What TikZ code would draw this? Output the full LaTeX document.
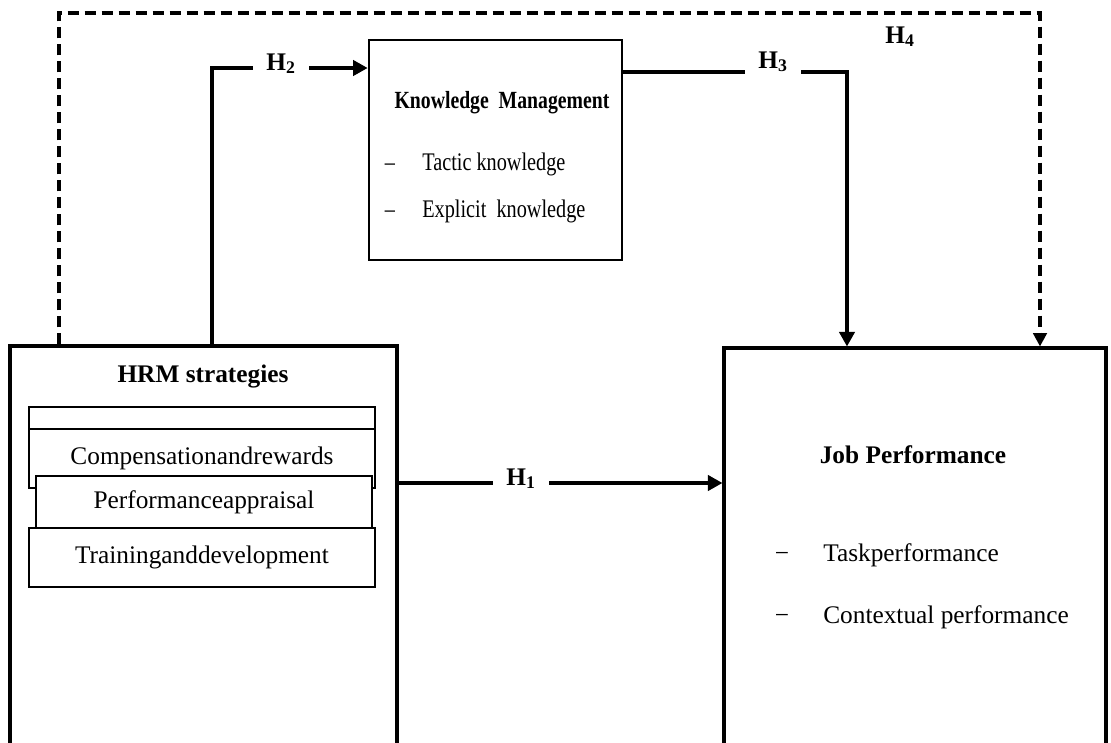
\documentclass[tikz,border=0pt]{standalone}
\usepackage{fontspec}
\setmainfont{Liberation Serif}
\newfontfamily\narrowfont{Liberation Serif}[FakeStretch=0.8]
\usetikzlibrary{arrows.meta}

\begin{document}
\begin{tikzpicture}[x=0.75pt,y=-0.75pt,
  box/.style={draw,line width=2.3pt,inner sep=0pt},
  itembox/.style={draw,fill=white,line width=1pt,inner sep=0pt},
  txt/.style={font=\fontsize{19}{22}\selectfont,inner sep=0pt},
  kmtxt/.style={font=\narrowfont\fontsize{19}{22}\selectfont,inner sep=0pt},
  conn/.style={line width=2.6pt,-{Triangle[length=11pt,width=11.5pt]}},
  dconn/.style={line width=2.5pt,dash pattern=on 8.25pt off 4.5pt,-{Triangle[length=10pt,width=10pt]}},
  hyp/.style={fill=white,font=\fontsize{19}{22}\selectfont\bfseries,inner xsep=10pt,inner ysep=3pt}]
  \useasboundingbox (0,0) rectangle (1111,743);

  % the three blocks
  \node[box,minimum width=290.25pt,minimum height=303pt] (hrm) at (203.5,548) {};
  \node[box,minimum width=286.5pt,minimum height=301.5pt] (job) at (915,549) {};
  \node[box,line width=2pt,minimum width=189.75pt,minimum height=165pt] (km) at (495.5,150) {};

  % HRM strategies
  \node[txt,font=\fontsize{19}{22}\selectfont\bfseries,anchor=base] (hrmtitle) at (203,382) {HRM strategies};
  \node[itembox,minimum width=259.5pt,minimum height=16.5pt] (blank) at (202,418) {};
  \node[itembox,txt,minimum width=259.5pt,minimum height=44.25pt] (comp) at (202,458.5) {Compensationandrewards};
  \node[itembox,txt,minimum width=252pt,minimum height=39pt] (perf) at (204,502) {Performanceappraisal};
  \node[itembox,txt,minimum width=259.5pt,minimum height=44.25pt] (train) at (202,557.5) {Traininganddevelopment};

  % Knowledge Management
  \node[kmtxt,font=\narrowfont\fontsize{18.5}{21}\selectfont\bfseries,anchor=base] (kmtitle) at (502,108) {Knowledge\ \ Management};
  \node[kmtxt,anchor=base] (kmdash1) at (390,170) {\textendash};
  \node[kmtxt,anchor=base west] (tacit) at (422,170) {Tactic knowledge};
  \node[kmtxt,anchor=base] (kmdash2) at (390,217) {\textendash};
  \node[kmtxt,anchor=base west] (explicit) at (422,217) {Explicit\ \ knowledge};

  % Job Performance
  \node[txt,font=\fontsize{19}{22}\selectfont\bfseries,anchor=base] (jobtitle) at (913,463) {Job Performance};
  \node[txt,anchor=base] (jobdash1) at (782,561) {\textminus};
  \node[txt,anchor=base west] (task) at (823,561) {Taskperformance};
  \node[txt,anchor=base] (jobdash2) at (782,623) {\textminus};
  \node[txt,anchor=base west] (context) at (823,623) {Contextual performance};

  % connectors
  \coordinate (h1) at (0,483);
  \coordinate (h2bend) at (212,68);
  \coordinate (h3bend) at (847,72);
  \coordinate (h4a) at (59,13);
  \coordinate (h4b) at (1040,13);
  \draw[conn] (hrm.east |- h1) -- (job.west |- h1);
  \draw[conn] (hrm.north -| h2bend) -- (h2bend) -- (km.west |- h2bend);
  \draw[conn] (km.east |- h3bend) -- (h3bend) -- (job.north -| h3bend);
  \draw[dconn] (hrm.north -| h4a) -- (h4a) -- (h4b) -- (job.north -| h4b);

  % hypothesis labels
  \node[hyp,anchor=base] (lh1) at (521,485) {H\textsubscript{1}};
  \node[hyp,anchor=base] (lh2) at (281,70) {H\textsubscript{2}};
  \node[hyp,anchor=base] (lh3) at (773,68) {H\textsubscript{3}};
  \node[hyp,fill=none,anchor=base] (lh4) at (900,43) {H\textsubscript{4}};
\end{tikzpicture}
\end{document}
